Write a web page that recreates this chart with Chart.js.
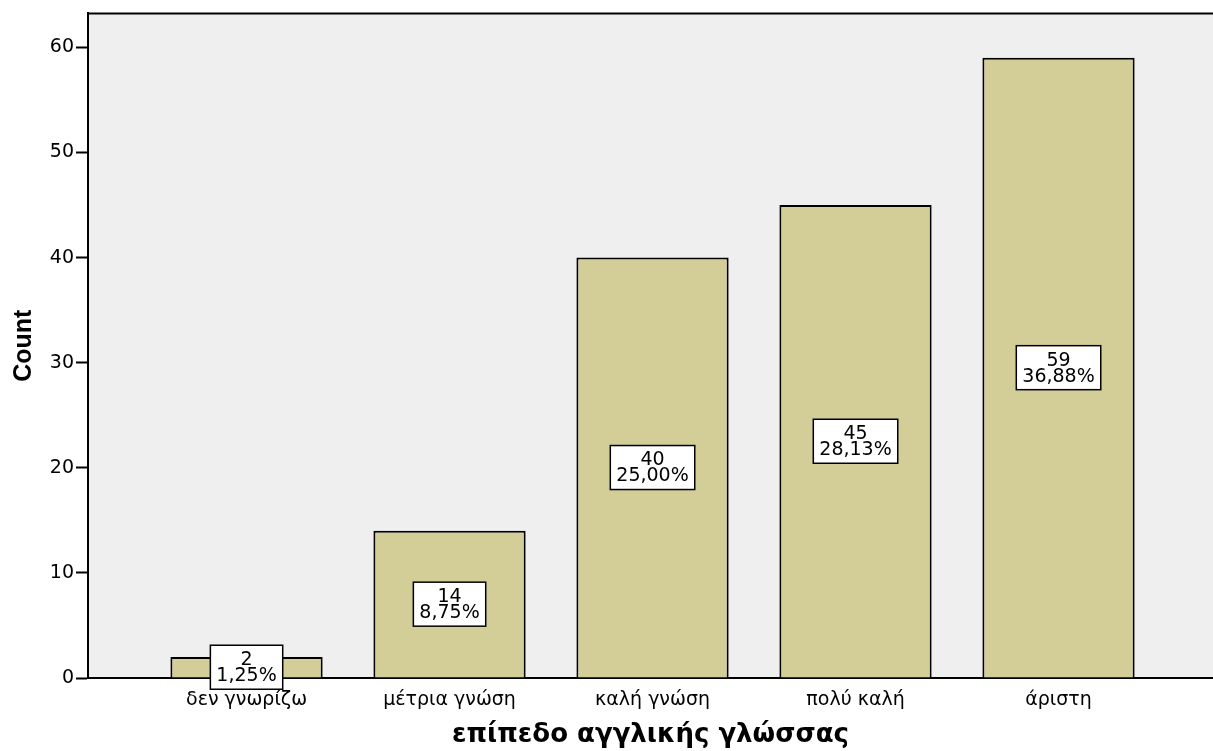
<!DOCTYPE html>
<html>
<head>
<meta charset="utf-8">
<script src="https://cdn.jsdelivr.net/npm/chart.js@4.4.0/dist/chart.umd.min.js"></script>
<style>
    body { margin: 0; background: #ffffff; }
    canvas { display: block; }
</style>
</head>
<body>
<canvas id="bar-chart" width="1213" height="751"></canvas>
<script>
const categories = ['δεν γνωρίζω', 'μέτρια γνώση', 'καλή γνώση', 'πολύ καλή', 'άριστη'];
const counts = [2, 14, 40, 45, 59];
const percents = ['1,25%', '8,75%', '25,00%', '28,13%', '36,88%'];
const yTicks = [0, 10, 20, 30, 40, 50, 60];

const plotBackground = {
    id: 'plotBackground',
    beforeDraw(chart) {
        const { ctx, chartArea } = chart;
        ctx.save();
        ctx.fillStyle = '#efefef';
        ctx.fillRect(chartArea.left, chartArea.top, chartArea.right - chartArea.left, chartArea.bottom - chartArea.top);
        ctx.restore();
    },
    afterDraw(chart) {
        const { ctx, chartArea } = chart;
        ctx.save();
        ctx.strokeStyle = '#000';
        ctx.lineWidth = 2;
        ctx.beginPath();
        ctx.moveTo(chartArea.left, chartArea.top);
        ctx.lineTo(chartArea.right, chartArea.top);
        ctx.stroke();
        ctx.restore();
    }
};

const countLabels = {
    id: 'countLabels',
    afterDatasetsDraw(chart) {
        const { ctx } = chart;
        const meta = chart.getDatasetMeta(0);
        ctx.save();
        ctx.font = '19px "DejaVu Sans"';
        ctx.textAlign = 'center';
        ctx.textBaseline = 'middle';
        meta.data.forEach((bar, i) => {
            const cx = bar.x;
            const cy = (bar.y + bar.base) / 2;
            const top = String(counts[i]);
            const bottom = percents[i];
            const w = Math.max(ctx.measureText(top).width, ctx.measureText(bottom).width) + 12;
            const h = 44;
            ctx.fillStyle = '#fff';
            ctx.fillRect(cx - w / 2, cy - h / 2, w, h);
            ctx.strokeStyle = '#000';
            ctx.lineWidth = 1.5;
            ctx.strokeRect(cx - w / 2, cy - h / 2, w, h);
            ctx.fillStyle = '#000';
            ctx.fillText(top, cx, cy - 7);
            ctx.fillText(bottom, cx, cy + 9);
        });
        ctx.restore();
    }
};

new Chart(document.getElementById('bar-chart'), {
    type: 'bar',
    data: {
        datasets: [{
            data: counts.map((c, i) => ({ x: i, y: c })),
            backgroundColor: '#d3ce98',
            borderColor: '#000',
            borderWidth: 2,
            barPercentage: 0.75,
            categoryPercentage: 1
        }]
    },
    options: {
        responsive: false,
        animation: false,
        layout: { padding: { top: 12, left: 0, right: 0, bottom: 0 } },
        plugins: {
            legend: { display: false },
            tooltip: { enabled: false }
        },
        scales: {
            x: {
                type: 'linear',
                offset: false,
                min: -0.781,
                max: 4.761,
                afterBuildTicks: scale => { scale.ticks = categories.map((c, i) => ({ value: i })); },
                afterFit: scale => { scale.height = 73; },
                ticks: {
                    callback: v => categories[v],
                    color: '#000',
                    font: { family: 'DejaVu Sans', size: 19 },
                    padding: 11,
                    maxRotation: 0,
                    autoSkip: false
                },
                grid: { display: false, drawTicks: false, offset: false },
                border: { color: '#000', width: 2 },
                title: {
                    display: true,
                    text: 'επίπεδο αγγλικής γλώσσας',
                    color: '#000',
                    font: { family: 'DejaVu Sans', size: 26, weight: 'bold' },
                    padding: { top: 0, bottom: 0 }
                }
            },
            y: {
                min: 0,
                max: 63.23,
                afterBuildTicks: scale => { scale.ticks = yTicks.map(v => ({ value: v })); },
                afterFit: scale => { scale.width = 88; },
                ticks: {
                    color: '#000',
                    font: { family: 'DejaVu Sans', size: 19 },
                    padding: 2
                },
                grid: {
                    drawOnChartArea: false,
                    tickLength: 12,
                    tickWidth: 2,
                    color: '#000'
                },
                border: { color: '#000', width: 2 },
                title: {
                    display: true,
                    text: 'Count',
                    color: '#000',
                    font: { family: '"Liberation Sans Narrow", "Liberation Sans"', size: 25, weight: 'bold' },
                    padding: { top: 9, bottom: 0 }
                }
            }
        }
    },
    plugins: [plotBackground, countLabels]
});
</script>
</body>
</html>
